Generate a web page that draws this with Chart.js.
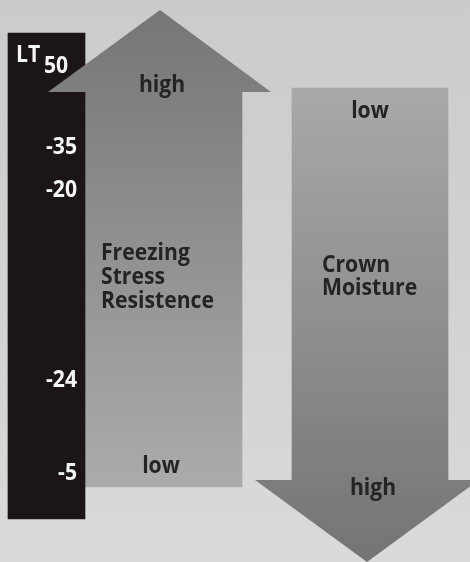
<!DOCTYPE html>
<html>
<head>
<meta charset="utf-8">
<script src="https://cdn.jsdelivr.net/npm/chart.js@4.4.1/dist/chart.umd.min.js"></script>
<style>
    html, body { margin: 0; padding: 0; background: #d2d2d2; }
    #caja { width: 470px; height: 562px; }
</style>
</head>
<body>
<div id="caja"><canvas id="grafico"></canvas></div>
<script>
// Datos del diagrama (niveles en unidades del eje vertical, 0 arriba)
const columnas = ['LT', 'Freezing Stress Resistence', 'Crown Moisture'];
const tramos = [[33, 519], [92, 487], [88, 480]];
const direcciones = [0, 1, -1]; // 1 = flecha hacia arriba, -1 = hacia abajo
const etiquetasLT = ['50', '-35', '-20', '-24', '-5'];
const nivelesLT = [64, 145, 188, 378, 471];
const textoSuperior = ['', 'high', 'low'];
const textoInferior = ['', 'low', 'high'];
const nombres = [[], ['Freezing', 'Stress', 'Resistence'], ['Crown', 'Moisture']];

// Disposición
const centros = [46.5, 163, 370];
const anchos = [77, 158, 156];
const colores = [['#1c1517', '#1c1517'], ['#767676', '#ababab'], ['#a9a9a9', '#747474']];
const fuente = "'Open Sans', 'DejaVu Sans', sans-serif";

function colorColumna(context) {
    const i = context.datasetIndex;
    const chart = context.chart;
    if (!chart.chartArea) return colores[i][0];
    const y = chart.scales.y;
    let y0 = tramos[i][0], y1 = tramos[i][1];
    if (direcciones[i] === 1) y0 -= 82;
    if (direcciones[i] === -1) y1 += 82;
    const grad = chart.ctx.createLinearGradient(0, y.getPixelForValue(y0), 0, y.getPixelForValue(y1));
    grad.addColorStop(0, colores[i][0]);
    grad.addColorStop(1, colores[i][1]);
    return grad;
}

// texto un poco estrecho, como la tipografía original
function texto(ctx, s, x, y, align) {
    ctx.save();
    ctx.translate(x, y);
    ctx.scale(0.92, 1);
    ctx.textAlign = align;
    ctx.fillText(s, 0, 0);
    ctx.restore();
}

const fondo = {
    id: 'fondo',
    beforeDraw(chart) {
        const ctx = chart.ctx;
        const g = ctx.createLinearGradient(0, 0, 0, chart.height);
        g.addColorStop(0, '#cbcbcb');
        g.addColorStop(0.6, '#d3d3d3');
        g.addColorStop(1, '#dadada');
        ctx.save();
        ctx.fillStyle = g;
        ctx.fillRect(0, 0, chart.width, chart.height);
        ctx.restore();
    }
};

const flechas = {
    id: 'flechas',
    afterDatasetsDraw(chart) {
        const ctx = chart.ctx;
        const escalaY = chart.scales.y;
        chart.data.datasets.forEach((ds, i) => {
            const barra = chart.getDatasetMeta(i).data[0];
            const arriba = Math.min(barra.y, barra.base);
            const abajo = Math.max(barra.y, barra.base);
            const dir = direcciones[i];
            ctx.save();
            if (dir !== 0) {
                // punta de la flecha
                const cx = barra.x - 3;
                ctx.fillStyle = barra.options.backgroundColor;
                ctx.beginPath();
                if (dir === 1) {
                    ctx.moveTo(cx - 112, arriba);
                    ctx.lineTo(cx + 111, arriba);
                    ctx.lineTo(cx, arriba - 82);
                } else {
                    ctx.moveTo(cx - 112, abajo);
                    ctx.lineTo(cx + 112, abajo);
                    ctx.lineTo(cx, abajo + 82);
                }
                ctx.closePath();
                ctx.fill();
            }
            ctx.restore();
        });

        // textos
        ctx.save();
        ctx.fillStyle = '#242424';
        ctx.font = 'bold 23px ' + fuente;
        ctx.textBaseline = 'alphabetic';
        chart.data.datasets.forEach((ds, i) => {
            if (direcciones[i] === 0) return;
            const barra = chart.getDatasetMeta(i).data[0];
            const arriba = Math.min(barra.y, barra.base);
            const abajo = Math.max(barra.y, barra.base);
            if (direcciones[i] === 1) {
                texto(ctx, textoSuperior[i], barra.x - 1, arriba, 'center');
                texto(ctx, textoInferior[i], barra.x - 2, abajo - 14, 'center');
                nombres[i].forEach((n, k) => texto(ctx, n, barra.x - 62, 260 + k * 24, 'left'));
            } else {
                texto(ctx, textoSuperior[i], barra.x, arriba + 30, 'center');
                texto(ctx, textoInferior[i], barra.x + 3, abajo + 15, 'center');
                nombres[i].forEach((n, k) => texto(ctx, n, barra.x - 48, 272 + k * 23, 'left'));
            }
        });

        // escala LT
        ctx.fillStyle = '#f4f4f4';
        ctx.font = 'bold 23px ' + fuente;
        texto(ctx, 'LT', 16, 62, 'left');
        etiquetasLT.forEach((t, k) => {
            const y = escalaY.getPixelForValue(nivelesLT[k]) + 9;
            if (k === 0) {
                texto(ctx, t, 44, y, 'left');
            } else {
                texto(ctx, t, 77, y, 'right');
            }
        });
        ctx.restore();
    }
};

new Chart(document.getElementById('grafico'), {
    type: 'bar',
    data: {
        datasets: columnas.map((c, i) => ({
            label: c,
            data: [{ x: centros[i], y: tramos[i] }],
            barThickness: anchos[i],
            grouped: false,
            borderWidth: 0,
            backgroundColor: colorColumna
        }))
    },
    options: {
        responsive: true,
        maintainAspectRatio: false,
        animation: false,
        devicePixelRatio: 1,
        layout: { padding: 0 },
        plugins: { legend: { display: false }, tooltip: { enabled: false } },
        scales: {
            x: { type: 'linear', min: 0, max: 470, offset: false, display: false },
            y: { type: 'linear', min: 0, max: 562, reverse: true, display: false }
        }
    },
    plugins: [fondo, flechas]
});
</script>
</body>
</html>
